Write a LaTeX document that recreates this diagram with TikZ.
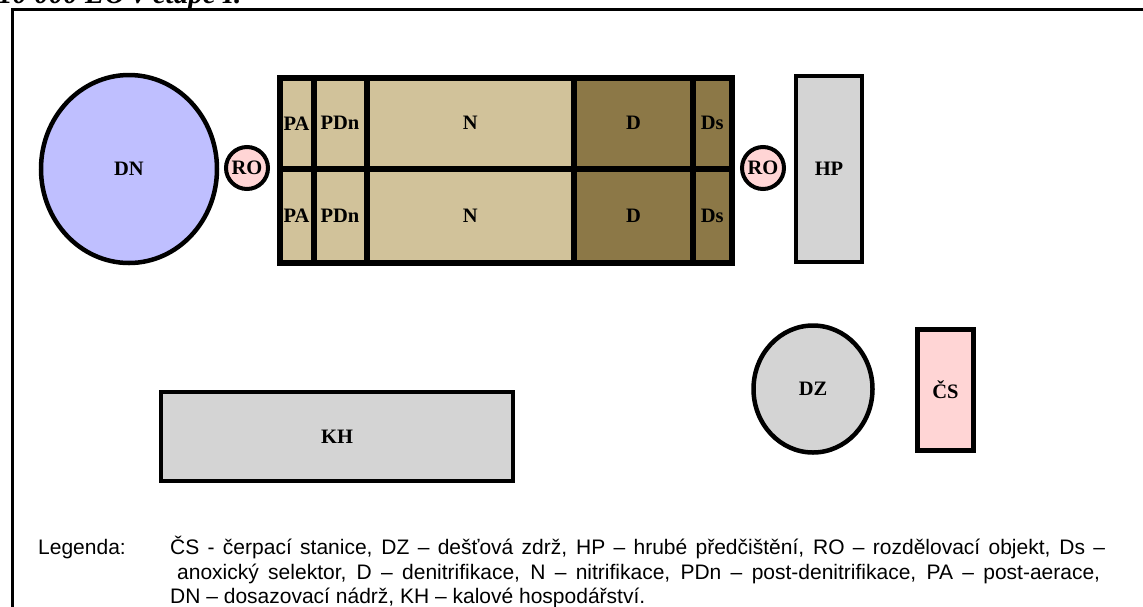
\documentclass[tikz,border=0pt]{standalone}
\usepackage{fontspec}
\setmainfont{Liberation Serif}
\setsansfont{Liberation Sans}
\usetikzlibrary{shapes.geometric}

\definecolor{tanlight}{HTML}{D1C29A}
\definecolor{tandark}{HTML}{8C7847}
\definecolor{dnblue}{HTML}{BFBFFF}
\definecolor{ropink}{HTML}{FFD5D5}
\definecolor{objgrey}{HTML}{D4D4D4}

\begin{document}
\begin{tikzpicture}[x=1pt,y=-1pt]
	\tikzset{obj/.style={draw, line width=4.5pt, inner sep=0pt, font=\fontsize{20.5}{20.5}\selectfont\bfseries},
	         cell/.style={obj, line width=6pt},
	         legend/.style={anchor=base west, inner sep=0pt, font=\sffamily\fontsize{21}{21}\selectfont}}
	\useasboundingbox (0,0) rectangle (1143,606);
	% frame and cut title
	\node[anchor=base west, inner sep=0pt, font=\fontsize{29}{29}\selectfont\bfseries\itshape] (title) at (-2,3) {10 000 EO v etapě I.};
	\draw[line width=3pt] (12,640) -- (12,9) -- (1160,9);
	
	% left side
	\node[obj, ellipse, fill=dnblue, minimum width=176pt, minimum height=188pt] (dn) at (129,169) {DN};
	\node[obj, circle, fill=ropink, line width=4pt, minimum size=42pt] (ro1) at (247,168) {RO};
	
	% tanks, two lines
	\foreach \r/\yc/\h in {1/123.25/91.5, 2/215.75/93.5}{
		\foreach \nm/\lab/\xc/\w/\col in {pa/PA/296.5/34/tanlight, pdn/PDn/340/53/tanlight, n/N/470.25/207.5/tanlight, d/D/633.5/119/tandark, ds/Ds/712.25/38.5/tandark}
			\node[cell, fill=\col, minimum width=\w pt, minimum height=\h pt] (\nm\r) at (\xc,\yc) {\lab};
	}
	
	% right side
	\node[obj, circle, fill=ropink, line width=4pt, minimum size=42pt] (ro2) at (763,168) {RO};
	\node[obj, fill=objgrey, minimum width=66pt, minimum height=186pt] (hp) at (829,169) {HP};
	
	\node[obj, ellipse, fill=objgrey, minimum width=119pt, minimum height=127pt] (dz) at (813,389) {DZ};
	\node[obj, fill=ropink, line width=5pt, minimum width=56pt, minimum height=121pt] (cs) at (945.5,390) {ČS};
	\node[obj, fill=objgrey, minimum width=352pt, minimum height=89pt] (kh) at (337,436.5) {KH};
	
	% legend
	\node[legend] (leg) at (38,554) {Legenda:};
	\node[legend] (leg1) at (170,554) {\makebox[935pt][s]{ČS - čerpací stanice, DZ – dešťová zdrž, HP – hrubé předčištění, RO – rozdělovací objekt, Ds –}};
	\node[legend] (leg2) at (177,579) {\makebox[923pt][s]{anoxický selektor, D – denitrifikace, N – nitrifikace, PDn – post-denitrifikace, PA – post-aerace,}};
	\node[legend] (leg3) at (170,603) {DN – dosazovací nádrž, KH – kalové hospodářství.};
\end{tikzpicture}
\end{document}
